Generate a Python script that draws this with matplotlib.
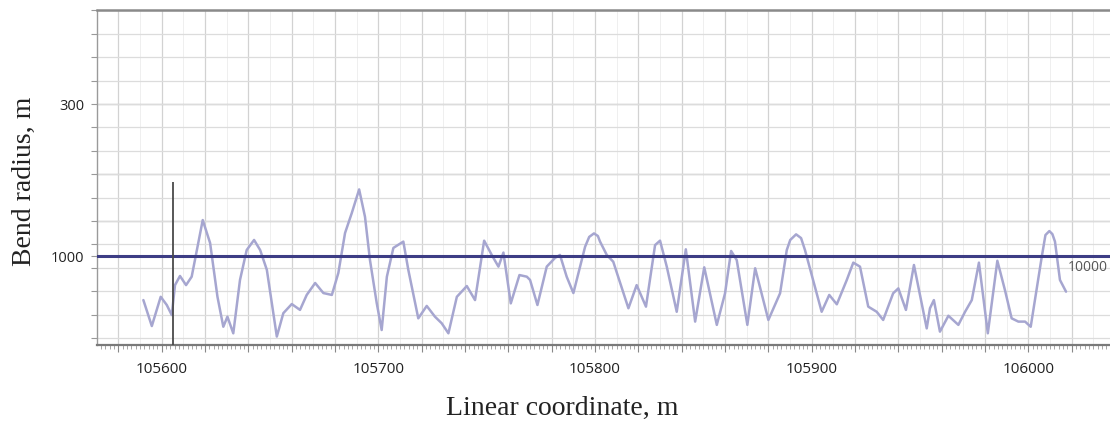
import numpy as np
import matplotlib
matplotlib.use("Agg")
from matplotlib import pyplot as plt
from matplotlib.ticker import MultipleLocator, FixedLocator, FuncFormatter

# traced curve: linear coordinate (m) and vertical position in grid steps
coord_m = [105591.5, 105595.4, 105599.5, 105602.3, 105604.6, 105606.1, 105608.4, 105611.2,
           105613.8, 105616.2, 105618.9, 105622.3, 105625.7, 105628.4, 105630.3, 105633.0,
           105636.1, 105639.2, 105642.6, 105645.4, 105648.5, 105653.1, 105656.1, 105660.0,
           105663.8, 105666.9, 105670.8, 105674.6, 105678.5, 105681.5, 105684.6, 105687.7,
           105691.1, 105693.8, 105696.1, 105699.2, 105701.5, 105703.9, 105706.9, 105711.5,
           105713.8, 105718.4, 105722.3, 105726.1, 105729.2, 105732.3, 105736.2, 105740.8,
           105744.6, 105748.8, 105752.3, 105755.4, 105757.7, 105761.1, 105765.1, 105768.5,
           105770.0, 105773.4, 105777.7, 105781.5, 105783.8, 105786.9, 105790.0, 105795.4,
           105797.3, 105799.5, 105801.3, 105802.3, 105805.4, 105808.4, 105815.4, 105819.2,
           105823.5, 105827.7, 105830.0, 105833.1, 105837.7, 105841.9, 105846.2, 105850.4,
           105856.2, 105860.0, 105862.8, 105865.4, 105870.3, 105873.9, 105880.0, 105885.4,
           105888.5, 105890.1, 105892.8, 105895.1, 105896.9, 105904.6, 105908.1, 105911.6,
           105916.2, 105919.2, 105922.3, 105926.1, 105930.0, 105933.0, 105937.6, 105940.0,
           105943.5, 105947.2, 105953.1, 105954.6, 105956.4, 105959.2, 105963.1, 105967.7,
           105970.8, 105973.9, 105977.2, 105981.3, 105985.7, 105989.2, 105992.3, 105995.4,
           105998.5, 106001.1, 106006.2, 106007.9, 106009.7, 106011.1, 106012.3, 106014.6,
           106017.4]
level = [1.62, 0.51, 1.76, 1.41, 0.98, 2.26, 2.65, 2.26,
         2.62, 3.76, 5.04, 4.06, 1.76, 0.48, 0.91, 0.20,
         2.48, 3.76, 4.19, 3.76, 2.91, 0.06, 1.06, 1.45,
         1.20, 1.84, 2.35, 1.92, 1.84, 2.78, 4.49, 5.34,
         6.35, 5.18, 3.33, 1.50, 0.34, 2.62, 3.85, 4.12,
         2.91, 0.84, 1.37, 0.91, 0.63, 0.20, 1.76, 2.22,
         1.62, 4.16, 3.55, 3.05, 3.65, 1.48, 2.69, 2.62,
         2.48, 1.41, 3.05, 3.42, 3.55, 2.62, 1.92, 3.90,
         4.32, 4.47, 4.36, 4.12, 3.55, 3.26, 1.27, 2.26,
         1.34, 3.97, 4.16, 3.05, 1.12, 3.79, 0.70, 3.02,
         0.56, 1.91, 3.72, 3.33, 0.56, 2.98, 0.77, 1.91,
         3.76, 4.19, 4.43, 4.27, 3.76, 1.12, 1.84, 1.44,
         2.48, 3.22, 3.05, 1.34, 1.12, 0.77, 1.91, 2.12,
         1.20, 3.12, 0.41, 1.27, 1.62, 0.27, 0.95, 0.56,
         1.12, 1.62, 3.22, 0.20, 3.30, 2.05, 0.84, 0.70,
         0.70, 0.48, 3.47, 4.40, 4.57, 4.44, 4.12, 2.48,
         1.98]

limit_level = 3.5          # 1000 m line
marker_coord = 105605.4    # vertical marker
marker_top = 6.67
radius_ticks = [3.5, 10]
radius_labels = ["1000", "300"]

fig = plt.figure(figsize=(11.1, 4.23), dpi=100)
ax = fig.add_axes([0.0874, 0.1844, 0.9126, 0.7920])

ax.set_xlim(105570.1, 106037.7)
ax.set_ylim(-0.30, 14.02)

# grid
ax.xaxis.set_major_locator(MultipleLocator(20))
ax.xaxis.set_minor_locator(MultipleLocator(2))
ax.xaxis.set_major_formatter(FuncFormatter(
    lambda v, p: "%d" % round(v) if round(v) % 100 == 0 else ""))
for xv in np.arange(105570, 106040, 10):
    if round(xv) % 20 != 0:
        ax.axvline(xv, color="#efefef", lw=0.7, zorder=0)
ax.grid(which="major", axis="x", color="#d2d2d2", lw=0.9, zorder=0)

ax.yaxis.set_major_locator(FixedLocator(list(range(0, 15)) + [3.5]))
lab = dict(zip(radius_ticks, radius_labels))
ax.yaxis.set_major_formatter(FuncFormatter(lambda v, p: lab.get(round(v, 1), "")))
ax.grid(which="major", axis="y", color="#dcdcdc", lw=0.9, zorder=0)
for yv in [5, 7, 10]:
    ax.axhline(yv, color="#c6c6c6", lw=1.0, zorder=0)

# data
ax.plot(coord_m, level, color="#a6a6d0", lw=1.8, zorder=3,
        solid_joinstyle="round", solid_capstyle="round")
ax.axhline(limit_level, color="#3d3d85", lw=2.2, zorder=4)
ax.vlines(marker_coord, -0.3, marker_top, color="#4a4a4a", lw=1.3, zorder=5)
ax.text(106018.3, 3.0, "10000", fontsize=10, color="#555555",
        family="Open Sans", va="center", ha="left", clip_on=False)

# axes styling
ax.spines["right"].set_visible(False)
ax.spines["top"].set_color("#8a8a8a")
ax.spines["top"].set_linewidth(1.8)
ax.spines["left"].set_color("#9a9a9a")
ax.spines["left"].set_linewidth(1.0)
ax.spines["bottom"].set_color("#7a7a7a")
ax.spines["bottom"].set_linewidth(1.6)

ax.tick_params(axis="x", which="major", length=5, width=0.8, color="#888888",
               labelsize=11, pad=7, labelcolor="#222222")
ax.tick_params(axis="x", which="minor", length=3, width=0.6, color="#999999")
ax.tick_params(axis="y", which="major", length=4, width=0.8, color="#999999",
               labelsize=10.5, pad=5, labelcolor="#222222")
for t in ax.get_xticklabels() + ax.get_yticklabels():
    t.set_family("Open Sans")

ax.set_xlabel("Linear coordinate, m", family="Liberation Serif", fontsize=20, color="#222222")
ax.set_ylabel("Bend radius, m", family="Liberation Serif", fontsize=20, color="#222222")
ax.xaxis.set_label_coords(0.459, -0.188)
ax.xaxis.label.set_va("center")
ax.yaxis.set_label_coords(-0.072, 0.49)
ax.yaxis.label.set_va("center")

plt.savefig("out.png", dpi=100)
